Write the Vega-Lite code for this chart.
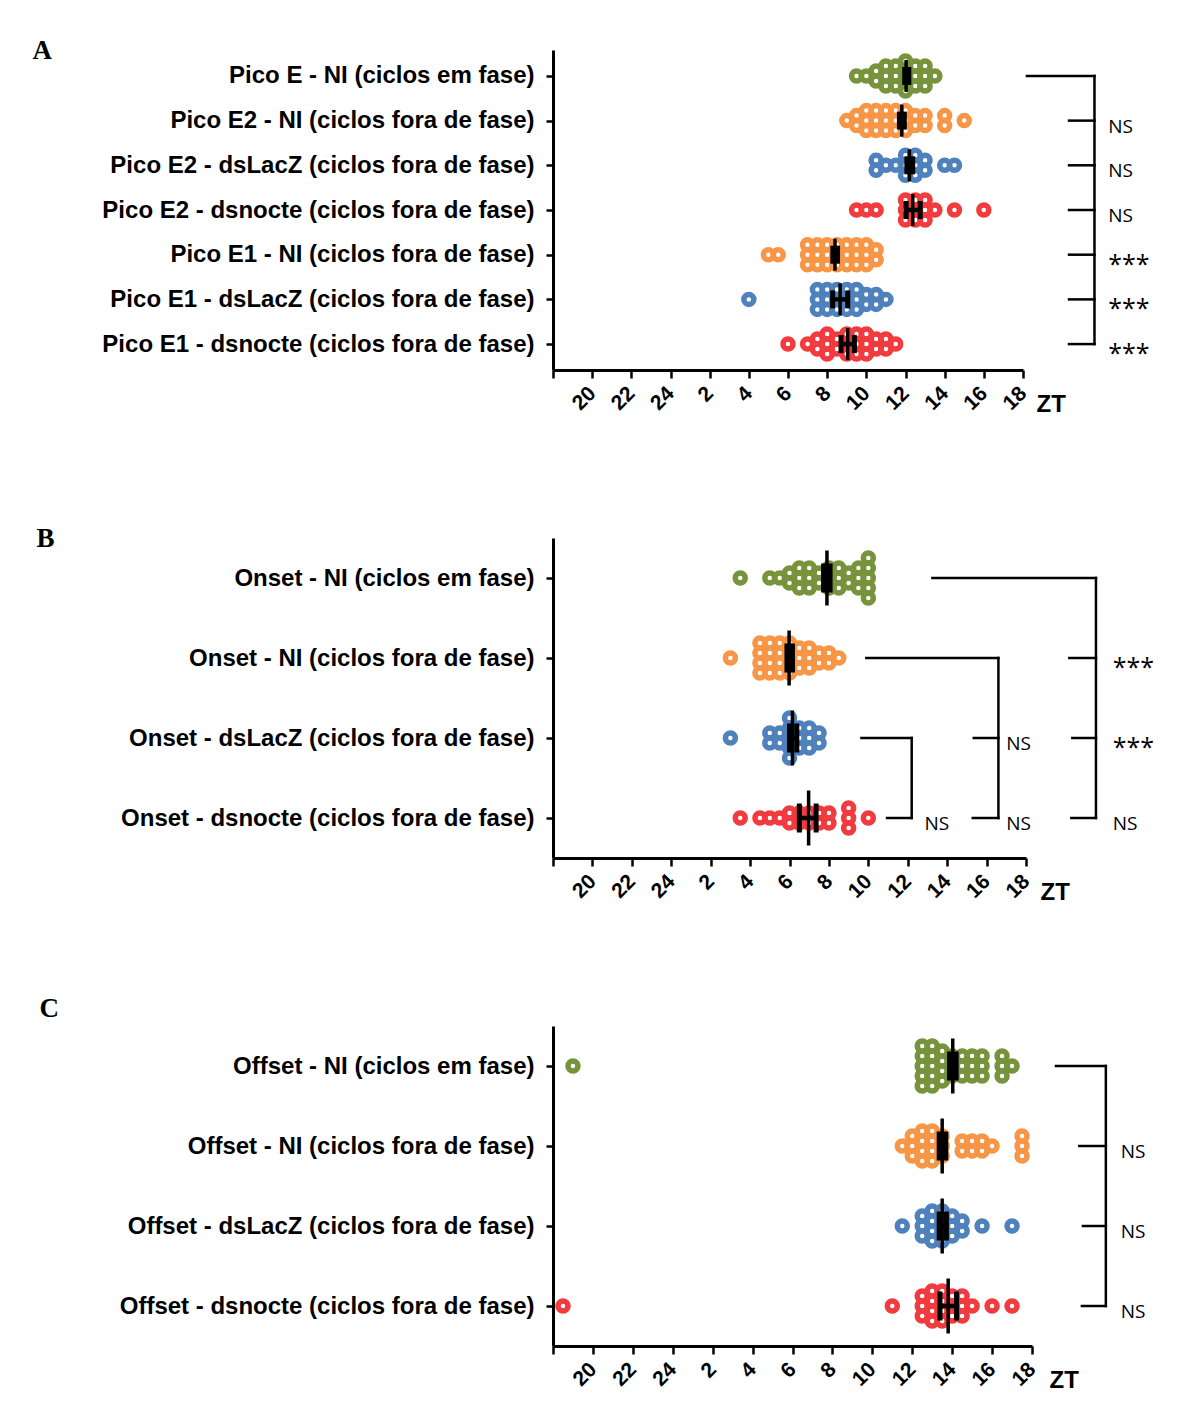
{
  "$schema": "https://vega.github.io/schema/vega-lite/v6.json",
  "padding": {"left": 32, "top": 36, "right": 10, "bottom": 10},
  "background": "white",
  "config": {
    "view": {"stroke": null},
    "font": "Liberation Sans",
    "axis": {"domainColor": "black", "domainWidth": 3, "tickColor": "black", "tickWidth": 2.5, "labelColor": "black", "labelFont": "Liberation Sans", "labelFontWeight": "bold", "grid": false, "titleColor": "black"},
    "axisY": {"tickSize": 7, "labelPadding": 12, "labelFontSize": 24, "labelLimit": 1000},
    "axisX": {"tickSize": 8, "labelPadding": 12, "labelFontSize": 21, "labelAngle": -45, "labelAlign": "right", "labelBaseline": "middle", "labelOverlap": false, "labelFlush": false, "values": [18, 20, 22, 24, 26, 28, 30, 32, 34, 36, 38, 40, 42], "labelExpr": "datum.value <= 18 ? '' : '' + (datum.value > 24 ? datum.value - 24 : datum.value)", "titleAngle": 0, "titleAlign": "left", "titleBaseline": "alphabetic", "titleY": 41, "titleFont": "Liberation Sans", "titleFontSize": 24, "titleFontWeight": "bold"}
  },
  "datasets": {
    "pts": [
      {"p":"A","r":1,"g":"NIem","t":33.5},{"p":"A","r":1,"g":"NIem","t":34},{"p":"A","r":1,"g":"NIem","t":34.5},{"p":"A","r":1,"g":"NIem","t":34.5},{"p":"A","r":1,"g":"NIem","t":35},{"p":"A","r":1,"g":"NIem","t":35},{"p":"A","r":1,"g":"NIem","t":35},{"p":"A","r":1,"g":"NIem","t":35.5},{"p":"A","r":1,"g":"NIem","t":35.5},{"p":"A","r":1,"g":"NIem","t":35.5},{"p":"A","r":1,"g":"NIem","t":36},{"p":"A","r":1,"g":"NIem","t":36},{"p":"A","r":1,"g":"NIem","t":36},{"p":"A","r":1,"g":"NIem","t":36},{"p":"A","r":1,"g":"NIem","t":36.5},{"p":"A","r":1,"g":"NIem","t":36.5},{"p":"A","r":1,"g":"NIem","t":36.5},{"p":"A","r":1,"g":"NIem","t":37},{"p":"A","r":1,"g":"NIem","t":37},{"p":"A","r":1,"g":"NIem","t":37},{"p":"A","r":1,"g":"NIem","t":37.5},
      {"p":"A","r":2,"g":"NIfora","t":33},{"p":"A","r":2,"g":"NIfora","t":33.5},{"p":"A","r":2,"g":"NIfora","t":33.5},{"p":"A","r":2,"g":"NIfora","t":34},{"p":"A","r":2,"g":"NIfora","t":34},{"p":"A","r":2,"g":"NIfora","t":34},{"p":"A","r":2,"g":"NIfora","t":34.5},{"p":"A","r":2,"g":"NIfora","t":34.5},{"p":"A","r":2,"g":"NIfora","t":34.5},{"p":"A","r":2,"g":"NIfora","t":35},{"p":"A","r":2,"g":"NIfora","t":35},{"p":"A","r":2,"g":"NIfora","t":35},{"p":"A","r":2,"g":"NIfora","t":35.5},{"p":"A","r":2,"g":"NIfora","t":35.5},{"p":"A","r":2,"g":"NIfora","t":35.5},{"p":"A","r":2,"g":"NIfora","t":36},{"p":"A","r":2,"g":"NIfora","t":36},{"p":"A","r":2,"g":"NIfora","t":36},{"p":"A","r":2,"g":"NIfora","t":36.5},{"p":"A","r":2,"g":"NIfora","t":36.5},{"p":"A","r":2,"g":"NIfora","t":37},{"p":"A","r":2,"g":"NIfora","t":37},{"p":"A","r":2,"g":"NIfora","t":38},{"p":"A","r":2,"g":"NIfora","t":38},{"p":"A","r":2,"g":"NIfora","t":39},
      {"p":"A","r":3,"g":"dsLacZ","t":34.5},{"p":"A","r":3,"g":"dsLacZ","t":34.5},{"p":"A","r":3,"g":"dsLacZ","t":35},{"p":"A","r":3,"g":"dsLacZ","t":35.5},{"p":"A","r":3,"g":"dsLacZ","t":36},{"p":"A","r":3,"g":"dsLacZ","t":36},{"p":"A","r":3,"g":"dsLacZ","t":36},{"p":"A","r":3,"g":"dsLacZ","t":36.5},{"p":"A","r":3,"g":"dsLacZ","t":36.5},{"p":"A","r":3,"g":"dsLacZ","t":36.5},{"p":"A","r":3,"g":"dsLacZ","t":37},{"p":"A","r":3,"g":"dsLacZ","t":37},{"p":"A","r":3,"g":"dsLacZ","t":38},{"p":"A","r":3,"g":"dsLacZ","t":38.5},
      {"p":"A","r":4,"g":"dsnocte","t":33.5},{"p":"A","r":4,"g":"dsnocte","t":34},{"p":"A","r":4,"g":"dsnocte","t":34.5},{"p":"A","r":4,"g":"dsnocte","t":36},{"p":"A","r":4,"g":"dsnocte","t":36},{"p":"A","r":4,"g":"dsnocte","t":36},{"p":"A","r":4,"g":"dsnocte","t":36.5},{"p":"A","r":4,"g":"dsnocte","t":36.5},{"p":"A","r":4,"g":"dsnocte","t":36.5},{"p":"A","r":4,"g":"dsnocte","t":37},{"p":"A","r":4,"g":"dsnocte","t":37},{"p":"A","r":4,"g":"dsnocte","t":37},{"p":"A","r":4,"g":"dsnocte","t":37.5},{"p":"A","r":4,"g":"dsnocte","t":38.5},{"p":"A","r":4,"g":"dsnocte","t":40},
      {"p":"A","r":5,"g":"NIfora","t":29},{"p":"A","r":5,"g":"NIfora","t":29.5},{"p":"A","r":5,"g":"NIfora","t":31},{"p":"A","r":5,"g":"NIfora","t":31},{"p":"A","r":5,"g":"NIfora","t":31},{"p":"A","r":5,"g":"NIfora","t":31.5},{"p":"A","r":5,"g":"NIfora","t":31.5},{"p":"A","r":5,"g":"NIfora","t":31.5},{"p":"A","r":5,"g":"NIfora","t":32},{"p":"A","r":5,"g":"NIfora","t":32},{"p":"A","r":5,"g":"NIfora","t":32},{"p":"A","r":5,"g":"NIfora","t":32.5},{"p":"A","r":5,"g":"NIfora","t":32.5},{"p":"A","r":5,"g":"NIfora","t":32.5},{"p":"A","r":5,"g":"NIfora","t":33},{"p":"A","r":5,"g":"NIfora","t":33},{"p":"A","r":5,"g":"NIfora","t":33},{"p":"A","r":5,"g":"NIfora","t":33.5},{"p":"A","r":5,"g":"NIfora","t":33.5},{"p":"A","r":5,"g":"NIfora","t":33.5},{"p":"A","r":5,"g":"NIfora","t":34},{"p":"A","r":5,"g":"NIfora","t":34},{"p":"A","r":5,"g":"NIfora","t":34},{"p":"A","r":5,"g":"NIfora","t":34.5},{"p":"A","r":5,"g":"NIfora","t":34.5},
      {"p":"A","r":6,"g":"dsLacZ","t":28},{"p":"A","r":6,"g":"dsLacZ","t":31.5},{"p":"A","r":6,"g":"dsLacZ","t":31.5},{"p":"A","r":6,"g":"dsLacZ","t":31.5},{"p":"A","r":6,"g":"dsLacZ","t":32},{"p":"A","r":6,"g":"dsLacZ","t":32},{"p":"A","r":6,"g":"dsLacZ","t":32},{"p":"A","r":6,"g":"dsLacZ","t":32.5},{"p":"A","r":6,"g":"dsLacZ","t":32.5},{"p":"A","r":6,"g":"dsLacZ","t":32.5},{"p":"A","r":6,"g":"dsLacZ","t":33},{"p":"A","r":6,"g":"dsLacZ","t":33},{"p":"A","r":6,"g":"dsLacZ","t":33},{"p":"A","r":6,"g":"dsLacZ","t":33.5},{"p":"A","r":6,"g":"dsLacZ","t":33.5},{"p":"A","r":6,"g":"dsLacZ","t":33.5},{"p":"A","r":6,"g":"dsLacZ","t":34},{"p":"A","r":6,"g":"dsLacZ","t":34},{"p":"A","r":6,"g":"dsLacZ","t":34.5},{"p":"A","r":6,"g":"dsLacZ","t":34.5},{"p":"A","r":6,"g":"dsLacZ","t":35},
      {"p":"A","r":7,"g":"dsnocte","t":30},{"p":"A","r":7,"g":"dsnocte","t":31},{"p":"A","r":7,"g":"dsnocte","t":31.5},{"p":"A","r":7,"g":"dsnocte","t":31.5},{"p":"A","r":7,"g":"dsnocte","t":32},{"p":"A","r":7,"g":"dsnocte","t":32},{"p":"A","r":7,"g":"dsnocte","t":32},{"p":"A","r":7,"g":"dsnocte","t":32.5},{"p":"A","r":7,"g":"dsnocte","t":32.5},{"p":"A","r":7,"g":"dsnocte","t":33},{"p":"A","r":7,"g":"dsnocte","t":33},{"p":"A","r":7,"g":"dsnocte","t":33},{"p":"A","r":7,"g":"dsnocte","t":33.5},{"p":"A","r":7,"g":"dsnocte","t":33.5},{"p":"A","r":7,"g":"dsnocte","t":33.5},{"p":"A","r":7,"g":"dsnocte","t":34},{"p":"A","r":7,"g":"dsnocte","t":34},{"p":"A","r":7,"g":"dsnocte","t":34},{"p":"A","r":7,"g":"dsnocte","t":34.5},{"p":"A","r":7,"g":"dsnocte","t":34.5},{"p":"A","r":7,"g":"dsnocte","t":35},{"p":"A","r":7,"g":"dsnocte","t":35},{"p":"A","r":7,"g":"dsnocte","t":35.5},

      {"p":"B","r":1,"g":"NIem","t":27.5},{"p":"B","r":1,"g":"NIem","t":29},{"p":"B","r":1,"g":"NIem","t":29.5},{"p":"B","r":1,"g":"NIem","t":30},{"p":"B","r":1,"g":"NIem","t":30},{"p":"B","r":1,"g":"NIem","t":30.5},{"p":"B","r":1,"g":"NIem","t":30.5},{"p":"B","r":1,"g":"NIem","t":30.5},{"p":"B","r":1,"g":"NIem","t":31},{"p":"B","r":1,"g":"NIem","t":31},{"p":"B","r":1,"g":"NIem","t":31},{"p":"B","r":1,"g":"NIem","t":31.5},{"p":"B","r":1,"g":"NIem","t":31.5},{"p":"B","r":1,"g":"NIem","t":32},{"p":"B","r":1,"g":"NIem","t":32},{"p":"B","r":1,"g":"NIem","t":32},{"p":"B","r":1,"g":"NIem","t":32.5},{"p":"B","r":1,"g":"NIem","t":32.5},{"p":"B","r":1,"g":"NIem","t":32.5},{"p":"B","r":1,"g":"NIem","t":33},{"p":"B","r":1,"g":"NIem","t":33},{"p":"B","r":1,"g":"NIem","t":33.5},{"p":"B","r":1,"g":"NIem","t":33.5},{"p":"B","r":1,"g":"NIem","t":33.5},{"p":"B","r":1,"g":"NIem","t":34},{"p":"B","r":1,"g":"NIem","t":34},{"p":"B","r":1,"g":"NIem","t":34},{"p":"B","r":1,"g":"NIem","t":34},{"p":"B","r":1,"g":"NIem","t":34},
      {"p":"B","r":2,"g":"NIfora","t":27},{"p":"B","r":2,"g":"NIfora","t":28.5},{"p":"B","r":2,"g":"NIfora","t":28.5},{"p":"B","r":2,"g":"NIfora","t":28.5},{"p":"B","r":2,"g":"NIfora","t":28.5},{"p":"B","r":2,"g":"NIfora","t":29},{"p":"B","r":2,"g":"NIfora","t":29},{"p":"B","r":2,"g":"NIfora","t":29},{"p":"B","r":2,"g":"NIfora","t":29},{"p":"B","r":2,"g":"NIfora","t":29.5},{"p":"B","r":2,"g":"NIfora","t":29.5},{"p":"B","r":2,"g":"NIfora","t":29.5},{"p":"B","r":2,"g":"NIfora","t":29.5},{"p":"B","r":2,"g":"NIfora","t":30},{"p":"B","r":2,"g":"NIfora","t":30},{"p":"B","r":2,"g":"NIfora","t":30},{"p":"B","r":2,"g":"NIfora","t":30},{"p":"B","r":2,"g":"NIfora","t":30.5},{"p":"B","r":2,"g":"NIfora","t":30.5},{"p":"B","r":2,"g":"NIfora","t":30.5},{"p":"B","r":2,"g":"NIfora","t":31},{"p":"B","r":2,"g":"NIfora","t":31},{"p":"B","r":2,"g":"NIfora","t":31},{"p":"B","r":2,"g":"NIfora","t":31.5},{"p":"B","r":2,"g":"NIfora","t":31.5},{"p":"B","r":2,"g":"NIfora","t":32},{"p":"B","r":2,"g":"NIfora","t":32},{"p":"B","r":2,"g":"NIfora","t":32.5},
      {"p":"B","r":3,"g":"dsLacZ","t":27},{"p":"B","r":3,"g":"dsLacZ","t":29},{"p":"B","r":3,"g":"dsLacZ","t":29},{"p":"B","r":3,"g":"dsLacZ","t":29.5},{"p":"B","r":3,"g":"dsLacZ","t":29.5},{"p":"B","r":3,"g":"dsLacZ","t":30},{"p":"B","r":3,"g":"dsLacZ","t":30},{"p":"B","r":3,"g":"dsLacZ","t":30},{"p":"B","r":3,"g":"dsLacZ","t":30},{"p":"B","r":3,"g":"dsLacZ","t":30},{"p":"B","r":3,"g":"dsLacZ","t":30.5},{"p":"B","r":3,"g":"dsLacZ","t":30.5},{"p":"B","r":3,"g":"dsLacZ","t":30.5},{"p":"B","r":3,"g":"dsLacZ","t":31},{"p":"B","r":3,"g":"dsLacZ","t":31},{"p":"B","r":3,"g":"dsLacZ","t":31},{"p":"B","r":3,"g":"dsLacZ","t":31.5},{"p":"B","r":3,"g":"dsLacZ","t":31.5},
      {"p":"B","r":4,"g":"dsnocte","t":27.5},{"p":"B","r":4,"g":"dsnocte","t":28.5},{"p":"B","r":4,"g":"dsnocte","t":29},{"p":"B","r":4,"g":"dsnocte","t":29.5},{"p":"B","r":4,"g":"dsnocte","t":30},{"p":"B","r":4,"g":"dsnocte","t":30},{"p":"B","r":4,"g":"dsnocte","t":30.5},{"p":"B","r":4,"g":"dsnocte","t":30.5},{"p":"B","r":4,"g":"dsnocte","t":31},{"p":"B","r":4,"g":"dsnocte","t":31},{"p":"B","r":4,"g":"dsnocte","t":31.5},{"p":"B","r":4,"g":"dsnocte","t":31.5},{"p":"B","r":4,"g":"dsnocte","t":32},{"p":"B","r":4,"g":"dsnocte","t":32},{"p":"B","r":4,"g":"dsnocte","t":33},{"p":"B","r":4,"g":"dsnocte","t":33},{"p":"B","r":4,"g":"dsnocte","t":33},{"p":"B","r":4,"g":"dsnocte","t":34},

      {"p":"C","r":1,"g":"NIem","t":19},{"p":"C","r":1,"g":"NIem","t":36.5},{"p":"C","r":1,"g":"NIem","t":36.5},{"p":"C","r":1,"g":"NIem","t":36.5},{"p":"C","r":1,"g":"NIem","t":36.5},{"p":"C","r":1,"g":"NIem","t":36.5},{"p":"C","r":1,"g":"NIem","t":37},{"p":"C","r":1,"g":"NIem","t":37},{"p":"C","r":1,"g":"NIem","t":37},{"p":"C","r":1,"g":"NIem","t":37},{"p":"C","r":1,"g":"NIem","t":37},{"p":"C","r":1,"g":"NIem","t":37.5},{"p":"C","r":1,"g":"NIem","t":37.5},{"p":"C","r":1,"g":"NIem","t":37.5},{"p":"C","r":1,"g":"NIem","t":37.5},{"p":"C","r":1,"g":"NIem","t":38},{"p":"C","r":1,"g":"NIem","t":38},{"p":"C","r":1,"g":"NIem","t":38},{"p":"C","r":1,"g":"NIem","t":38.5},{"p":"C","r":1,"g":"NIem","t":38.5},{"p":"C","r":1,"g":"NIem","t":38.5},{"p":"C","r":1,"g":"NIem","t":39},{"p":"C","r":1,"g":"NIem","t":39},{"p":"C","r":1,"g":"NIem","t":39},{"p":"C","r":1,"g":"NIem","t":39.5},{"p":"C","r":1,"g":"NIem","t":39.5},{"p":"C","r":1,"g":"NIem","t":39.5},{"p":"C","r":1,"g":"NIem","t":40.5},{"p":"C","r":1,"g":"NIem","t":40.5},{"p":"C","r":1,"g":"NIem","t":40.5},{"p":"C","r":1,"g":"NIem","t":41},
      {"p":"C","r":2,"g":"NIfora","t":35.5},{"p":"C","r":2,"g":"NIfora","t":36},{"p":"C","r":2,"g":"NIfora","t":36},{"p":"C","r":2,"g":"NIfora","t":36},{"p":"C","r":2,"g":"NIfora","t":36.5},{"p":"C","r":2,"g":"NIfora","t":36.5},{"p":"C","r":2,"g":"NIfora","t":36.5},{"p":"C","r":2,"g":"NIfora","t":36.5},{"p":"C","r":2,"g":"NIfora","t":37},{"p":"C","r":2,"g":"NIfora","t":37},{"p":"C","r":2,"g":"NIfora","t":37},{"p":"C","r":2,"g":"NIfora","t":37},{"p":"C","r":2,"g":"NIfora","t":37.5},{"p":"C","r":2,"g":"NIfora","t":37.5},{"p":"C","r":2,"g":"NIfora","t":37.5},{"p":"C","r":2,"g":"NIfora","t":38.5},{"p":"C","r":2,"g":"NIfora","t":38.5},{"p":"C","r":2,"g":"NIfora","t":39},{"p":"C","r":2,"g":"NIfora","t":39},{"p":"C","r":2,"g":"NIfora","t":39.5},{"p":"C","r":2,"g":"NIfora","t":39.5},{"p":"C","r":2,"g":"NIfora","t":40},{"p":"C","r":2,"g":"NIfora","t":41.5},{"p":"C","r":2,"g":"NIfora","t":41.5},{"p":"C","r":2,"g":"NIfora","t":41.5},
      {"p":"C","r":3,"g":"dsLacZ","t":35.5},{"p":"C","r":3,"g":"dsLacZ","t":36.5},{"p":"C","r":3,"g":"dsLacZ","t":36.5},{"p":"C","r":3,"g":"dsLacZ","t":36.5},{"p":"C","r":3,"g":"dsLacZ","t":37},{"p":"C","r":3,"g":"dsLacZ","t":37},{"p":"C","r":3,"g":"dsLacZ","t":37},{"p":"C","r":3,"g":"dsLacZ","t":37},{"p":"C","r":3,"g":"dsLacZ","t":37.5},{"p":"C","r":3,"g":"dsLacZ","t":37.5},{"p":"C","r":3,"g":"dsLacZ","t":37.5},{"p":"C","r":3,"g":"dsLacZ","t":37.5},{"p":"C","r":3,"g":"dsLacZ","t":38},{"p":"C","r":3,"g":"dsLacZ","t":38},{"p":"C","r":3,"g":"dsLacZ","t":38},{"p":"C","r":3,"g":"dsLacZ","t":38.5},{"p":"C","r":3,"g":"dsLacZ","t":38.5},{"p":"C","r":3,"g":"dsLacZ","t":39.5},{"p":"C","r":3,"g":"dsLacZ","t":41},
      {"p":"C","r":4,"g":"dsnocte","t":18.5},{"p":"C","r":4,"g":"dsnocte","t":35},{"p":"C","r":4,"g":"dsnocte","t":36.5},{"p":"C","r":4,"g":"dsnocte","t":36.5},{"p":"C","r":4,"g":"dsnocte","t":36.5},{"p":"C","r":4,"g":"dsnocte","t":37},{"p":"C","r":4,"g":"dsnocte","t":37},{"p":"C","r":4,"g":"dsnocte","t":37},{"p":"C","r":4,"g":"dsnocte","t":37},{"p":"C","r":4,"g":"dsnocte","t":37.5},{"p":"C","r":4,"g":"dsnocte","t":37.5},{"p":"C","r":4,"g":"dsnocte","t":37.5},{"p":"C","r":4,"g":"dsnocte","t":37.5},{"p":"C","r":4,"g":"dsnocte","t":38},{"p":"C","r":4,"g":"dsnocte","t":38},{"p":"C","r":4,"g":"dsnocte","t":38},{"p":"C","r":4,"g":"dsnocte","t":38.5},{"p":"C","r":4,"g":"dsnocte","t":38.5},{"p":"C","r":4,"g":"dsnocte","t":38.5},{"p":"C","r":4,"g":"dsnocte","t":39},{"p":"C","r":4,"g":"dsnocte","t":40},{"p":"C","r":4,"g":"dsnocte","t":41}
    ],
    "sum": [
      {"p":"A","r":1,"m":36.03,"lo":35.96,"hi":36.17},
      {"p":"A","r":2,"m":35.81,"lo":35.69,"hi":35.94},
      {"p":"A","r":3,"m":36.2,"lo":36.07,"hi":36.37},
      {"p":"A","r":4,"m":36.37,"lo":36.03,"hi":36.75},
      {"p":"A","r":5,"m":32.4,"lo":32.29,"hi":32.53},
      {"p":"A","r":6,"m":32.66,"lo":32.28,"hi":33.05},
      {"p":"A","r":7,"m":33.05,"lo":32.71,"hi":33.39},
      {"p":"B","r":1,"m":31.9,"lo":31.73,"hi":32.06},
      {"p":"B","r":2,"m":29.98,"lo":29.87,"hi":30.15},
      {"p":"B","r":3,"m":30.15,"lo":30.0,"hi":30.37},
      {"p":"B","r":4,"m":30.97,"lo":30.5,"hi":31.35},
      {"p":"C","r":1,"m":38.03,"lo":37.87,"hi":38.2},
      {"p":"C","r":2,"m":37.5,"lo":37.35,"hi":37.68},
      {"p":"C","r":3,"m":37.5,"lo":37.35,"hi":37.71},
      {"p":"C","r":4,"m":37.8,"lo":37.39,"hi":38.22}
    ],
    "br": [
      {"p":"A","x":42.2,"x2":45.65,"r1":1,"r2":1},
      {"p":"A","x":45.65,"x2":45.65,"r1":1,"r2":7},
      {"p":"A","x":44.35,"x2":45.65,"r1":2,"r2":2},
      {"p":"A","x":44.35,"x2":45.65,"r1":3,"r2":3},
      {"p":"A","x":44.35,"x2":45.65,"r1":4,"r2":4},
      {"p":"A","x":44.35,"x2":45.65,"r1":5,"r2":5},
      {"p":"A","x":44.35,"x2":45.65,"r1":6,"r2":6},
      {"p":"A","x":44.35,"x2":45.65,"r1":7,"r2":7},
      {"p":"B","x":37.25,"x2":45.55,"r1":1,"r2":1},
      {"p":"B","x":45.55,"x2":45.55,"r1":1,"r2":4},
      {"p":"B","x":44.2,"x2":45.55,"r1":2,"r2":2},
      {"p":"B","x":44.35,"x2":45.55,"r1":3,"r2":3},
      {"p":"B","x":44.3,"x2":45.55,"r1":4,"r2":4},
      {"p":"B","x":33.9,"x2":40.6,"r1":2,"r2":2},
      {"p":"B","x":40.6,"x2":40.6,"r1":2,"r2":4},
      {"p":"B","x":39.35,"x2":40.6,"r1":3,"r2":3},
      {"p":"B","x":39.3,"x2":40.6,"r1":4,"r2":4},
      {"p":"B","x":33.65,"x2":36.2,"r1":3,"r2":3},
      {"p":"B","x":36.2,"x2":36.2,"r1":3,"r2":4},
      {"p":"B","x":34.95,"x2":36.2,"r1":4,"r2":4},
      {"p":"C","x":43.2,"x2":45.7,"r1":1,"r2":1},
      {"p":"C","x":45.7,"x2":45.7,"r1":1,"r2":4},
      {"p":"C","x":44.37,"x2":45.7,"r1":2,"r2":2},
      {"p":"C","x":44.55,"x2":45.7,"r1":3,"r2":3},
      {"p":"C","x":44.5,"x2":45.7,"r1":4,"r2":4}
    ],
    "sig": [
      {"p":"A","x":46.35,"r":2,"s":"NS"},
      {"p":"A","x":46.35,"r":3,"s":"NS"},
      {"p":"A","x":46.35,"r":4,"s":"NS"},
      {"p":"A","x":46.35,"r":5,"s":"***"},
      {"p":"A","x":46.35,"r":6,"s":"***"},
      {"p":"A","x":46.35,"r":7,"s":"***"},
      {"p":"B","x":46.4,"r":2,"s":"***"},
      {"p":"B","x":46.4,"r":3,"s":"***"},
      {"p":"B","x":46.4,"r":4,"s":"NS"},
      {"p":"B","x":41.0,"r":3,"s":"NS"},
      {"p":"B","x":41.0,"r":4,"s":"NS"},
      {"p":"B","x":36.85,"r":4,"s":"NS"},
      {"p":"C","x":46.45,"r":2,"s":"NS"},
      {"p":"C","x":46.45,"r":3,"s":"NS"},
      {"p":"C","x":46.45,"r":4,"s":"NS"}
    ]
  },
  "vconcat": [
    {
      "width": 470, "height": 320,
      "encoding": {
        "x": {"type": "quantitative", "scale": {"domain": [18, 42], "nice": false, "zero": false}, "axis": {"title": "ZT", "titleX": 483}},
        "y": {"type": "nominal", "scale": {"type": "point", "domain": [1,2,3,4,5,6,7], "padding": 0.58},
              "axis": {"title": "A", "titleX": -521, "titleY": 8, "titleAngle": 0, "titleAlign": "left", "titleBaseline": "alphabetic", "titleFont": "Liberation Serif", "titleFontSize": 27, "titleFontWeight": "bold",
                       "labelExpr": "['', 'Pico E - NI (ciclos em fase)', 'Pico E2 - NI (ciclos fora de fase)', 'Pico E2 - dsLacZ (ciclos fora de fase)', 'Pico E2 - dsnocte (ciclos fora de fase)', 'Pico E1 - NI (ciclos fora de fase)', 'Pico E1 - dsLacZ (ciclos fora de fase)', 'Pico E1 - dsnocte (ciclos fora de fase)'][datum.value]"}}
      },
      "layer": [
        {"data": {"name": "pts"},
         "transform": [{"filter": "datum.p == 'A'"}, {"window": [{"op": "row_number", "as": "k"}], "groupby": ["r", "t"]}, {"joinaggregate": [{"op": "count", "as": "n"}], "groupby": ["r", "t"]}, {"calculate": "datum.k - (datum.n + 1) / 2", "as": "lane"}],
         "mark": {"type": "point", "shape": "circle", "filled": false, "size": 100, "strokeWidth": 5.5, "opacity": 1},
         "encoding": {
           "x": {"field": "t"},
           "y": {"field": "r"},
           "yOffset": {"field": "lane", "type": "quantitative", "scale": {"domain": [-2, 2], "range": [-20, 20]}},
           "color": {"field": "g", "type": "nominal", "scale": {"domain": ["NIem", "NIfora", "dsLacZ", "dsnocte"], "range": ["#77933C", "#F79646", "#4F81BD", "#F23B3E"]}, "legend": null}
         }},
        {"data": {"name": "sum"}, "transform": [{"filter": "datum.p == 'A'"}],
         "mark": {"type": "rule", "color": "black", "strokeWidth": 4.5},
         "encoding": {"x": {"field": "lo"}, "x2": {"field": "hi"}, "y": {"field": "r"}}},
        {"data": {"name": "sum"}, "transform": [{"filter": "datum.p == 'A'"}],
         "mark": {"type": "tick", "color": "black", "size": 18, "thickness": 5, "opacity": 1},
         "encoding": {"x": {"field": "lo"}, "y": {"field": "r"}}},
        {"data": {"name": "sum"}, "transform": [{"filter": "datum.p == 'A'"}],
         "mark": {"type": "tick", "color": "black", "size": 18, "thickness": 5, "opacity": 1},
         "encoding": {"x": {"field": "hi"}, "y": {"field": "r"}}},
        {"data": {"name": "sum"}, "transform": [{"filter": "datum.p == 'A'"}],
         "mark": {"type": "tick", "color": "black", "size": 32, "thickness": 3.5, "opacity": 1},
         "encoding": {"x": {"field": "m"}, "y": {"field": "r"}}},
        {"data": {"name": "br"}, "transform": [{"filter": "datum.p == 'A'"}],
         "mark": {"type": "rule", "color": "black", "strokeWidth": 2.5, "strokeCap": "square"},
         "encoding": {"x": {"field": "x"}, "x2": {"field": "x2"}, "y": {"field": "r1"}, "y2": {"field": "r2"}}},
        {"data": {"name": "sig"}, "transform": [{"filter": "datum.p == 'A' && datum.s == 'NS'"}],
         "mark": {"type": "text", "align": "left", "baseline": "middle", "dy": 6, "font": "Open Sans", "fontSize": 19, "color": "black"},
         "encoding": {"x": {"field": "x"}, "y": {"field": "r"}, "text": {"field": "s"}}},
        {"data": {"name": "sig"}, "transform": [{"filter": "datum.p == 'A' && datum.s == '***'"}],
         "mark": {"type": "text", "align": "left", "baseline": "middle", "dy": 10, "font": "Open Sans", "fontSize": 25, "color": "black"},
         "encoding": {"x": {"field": "x"}, "y": {"field": "r"}, "text": {"field": "s"}}}
      ]
    },
    {
      "width": 473, "height": 320,
      "encoding": {
        "x": {"type": "quantitative", "scale": {"domain": [18, 42], "nice": false, "zero": false}, "axis": {"title": "ZT", "titleX": 487}},
        "y": {"type": "nominal", "scale": {"type": "point", "domain": [1,2,3,4], "padding": 0.5},
              "axis": {"title": "B", "titleX": -517, "titleY": 8, "titleAngle": 0, "titleAlign": "left", "titleBaseline": "alphabetic", "titleFont": "Liberation Serif", "titleFontSize": 27, "titleFontWeight": "bold",
                       "labelExpr": "['', 'Onset - NI (ciclos em fase)', 'Onset - NI (ciclos fora de fase)', 'Onset - dsLacZ (ciclos fora de fase)', 'Onset - dsnocte (ciclos fora de fase)'][datum.value]"}}
      },
      "layer": [
        {"data": {"name": "pts"},
         "transform": [{"filter": "datum.p == 'B'"}, {"window": [{"op": "row_number", "as": "k"}], "groupby": ["r", "t"]}, {"joinaggregate": [{"op": "count", "as": "n"}], "groupby": ["r", "t"]}, {"calculate": "datum.k - (datum.n + 1) / 2", "as": "lane"}],
         "mark": {"type": "point", "shape": "circle", "filled": false, "size": 100, "strokeWidth": 5.5, "opacity": 1},
         "encoding": {
           "x": {"field": "t"},
           "y": {"field": "r"},
           "yOffset": {"field": "lane", "type": "quantitative", "scale": {"domain": [-2, 2], "range": [-22, 22]}},
           "color": {"field": "g", "type": "nominal", "scale": {"domain": ["NIem", "NIfora", "dsLacZ", "dsnocte"], "range": ["#77933C", "#F79646", "#4F81BD", "#F23B3E"]}, "legend": null}
         }},
        {"data": {"name": "sum"}, "transform": [{"filter": "datum.p == 'B'"}],
         "mark": {"type": "rule", "color": "black", "strokeWidth": 4.5},
         "encoding": {"x": {"field": "lo"}, "x2": {"field": "hi"}, "y": {"field": "r"}}},
        {"data": {"name": "sum"}, "transform": [{"filter": "datum.p == 'B'"}],
         "mark": {"type": "tick", "color": "black", "size": 29, "thickness": 5, "opacity": 1},
         "encoding": {"x": {"field": "lo"}, "y": {"field": "r"}}},
        {"data": {"name": "sum"}, "transform": [{"filter": "datum.p == 'B'"}],
         "mark": {"type": "tick", "color": "black", "size": 29, "thickness": 5, "opacity": 1},
         "encoding": {"x": {"field": "hi"}, "y": {"field": "r"}}},
        {"data": {"name": "sum"}, "transform": [{"filter": "datum.p == 'B'"}],
         "mark": {"type": "tick", "color": "black", "size": 55, "thickness": 3.5, "opacity": 1},
         "encoding": {"x": {"field": "m"}, "y": {"field": "r"}}},
        {"data": {"name": "br"}, "transform": [{"filter": "datum.p == 'B'"}],
         "mark": {"type": "rule", "color": "black", "strokeWidth": 2.5, "strokeCap": "square"},
         "encoding": {"x": {"field": "x"}, "x2": {"field": "x2"}, "y": {"field": "r1"}, "y2": {"field": "r2"}}},
        {"data": {"name": "sig"}, "transform": [{"filter": "datum.p == 'B' && datum.s == 'NS'"}],
         "mark": {"type": "text", "align": "left", "baseline": "middle", "dy": 6, "font": "Open Sans", "fontSize": 19, "color": "black"},
         "encoding": {"x": {"field": "x"}, "y": {"field": "r"}, "text": {"field": "s"}}},
        {"data": {"name": "sig"}, "transform": [{"filter": "datum.p == 'B' && datum.s == '***'"}],
         "mark": {"type": "text", "align": "left", "baseline": "middle", "dy": 10, "font": "Open Sans", "fontSize": 25, "color": "black"},
         "encoding": {"x": {"field": "x"}, "y": {"field": "r"}, "text": {"field": "s"}}}
      ]
    },
    {
      "width": 479, "height": 320,
      "encoding": {
        "x": {"type": "quantitative", "scale": {"domain": [18, 42], "nice": false, "zero": false}, "axis": {"title": "ZT", "titleX": 496}},
        "y": {"type": "nominal", "scale": {"type": "point", "domain": [1,2,3,4], "padding": 0.5},
              "axis": {"title": "C", "titleX": -514, "titleY": -10, "titleAngle": 0, "titleAlign": "left", "titleBaseline": "alphabetic", "titleFont": "Liberation Serif", "titleFontSize": 27, "titleFontWeight": "bold",
                       "labelExpr": "['', 'Offset - NI (ciclos em fase)', 'Offset - NI (ciclos fora de fase)', 'Offset - dsLacZ (ciclos fora de fase)', 'Offset - dsnocte (ciclos fora de fase)'][datum.value]"}}
      },
      "layer": [
        {"data": {"name": "pts"},
         "transform": [{"filter": "datum.p == 'C'"}, {"window": [{"op": "row_number", "as": "k"}], "groupby": ["r", "t"]}, {"joinaggregate": [{"op": "count", "as": "n"}], "groupby": ["r", "t"]}, {"calculate": "datum.k - (datum.n + 1) / 2", "as": "lane"}],
         "mark": {"type": "point", "shape": "circle", "filled": false, "size": 100, "strokeWidth": 5.5, "opacity": 1},
         "encoding": {
           "x": {"field": "t"},
           "y": {"field": "r"},
           "yOffset": {"field": "lane", "type": "quantitative", "scale": {"domain": [-2, 2], "range": [-22, 22]}},
           "color": {"field": "g", "type": "nominal", "scale": {"domain": ["NIem", "NIfora", "dsLacZ", "dsnocte"], "range": ["#77933C", "#F79646", "#4F81BD", "#F23B3E"]}, "legend": null}
         }},
        {"data": {"name": "sum"}, "transform": [{"filter": "datum.p == 'C'"}],
         "mark": {"type": "rule", "color": "black", "strokeWidth": 4.5},
         "encoding": {"x": {"field": "lo"}, "x2": {"field": "hi"}, "y": {"field": "r"}}},
        {"data": {"name": "sum"}, "transform": [{"filter": "datum.p == 'C'"}],
         "mark": {"type": "tick", "color": "black", "size": 29, "thickness": 5, "opacity": 1},
         "encoding": {"x": {"field": "lo"}, "y": {"field": "r"}}},
        {"data": {"name": "sum"}, "transform": [{"filter": "datum.p == 'C'"}],
         "mark": {"type": "tick", "color": "black", "size": 29, "thickness": 5, "opacity": 1},
         "encoding": {"x": {"field": "hi"}, "y": {"field": "r"}}},
        {"data": {"name": "sum"}, "transform": [{"filter": "datum.p == 'C'"}],
         "mark": {"type": "tick", "color": "black", "size": 55, "thickness": 3.5, "opacity": 1},
         "encoding": {"x": {"field": "m"}, "y": {"field": "r"}}},
        {"data": {"name": "br"}, "transform": [{"filter": "datum.p == 'C'"}],
         "mark": {"type": "rule", "color": "black", "strokeWidth": 2.5, "strokeCap": "square"},
         "encoding": {"x": {"field": "x"}, "x2": {"field": "x2"}, "y": {"field": "r1"}, "y2": {"field": "r2"}}},
        {"data": {"name": "sig"}, "transform": [{"filter": "datum.p == 'C'"}],
         "mark": {"type": "text", "align": "left", "baseline": "middle", "dy": 6, "font": "Open Sans", "fontSize": 19, "color": "black"},
         "encoding": {"x": {"field": "x"}, "y": {"field": "r"}, "text": {"field": "s"}}}
      ]
    }
  ],
  "spacing": 168,
  "bounds": "flush"
}
